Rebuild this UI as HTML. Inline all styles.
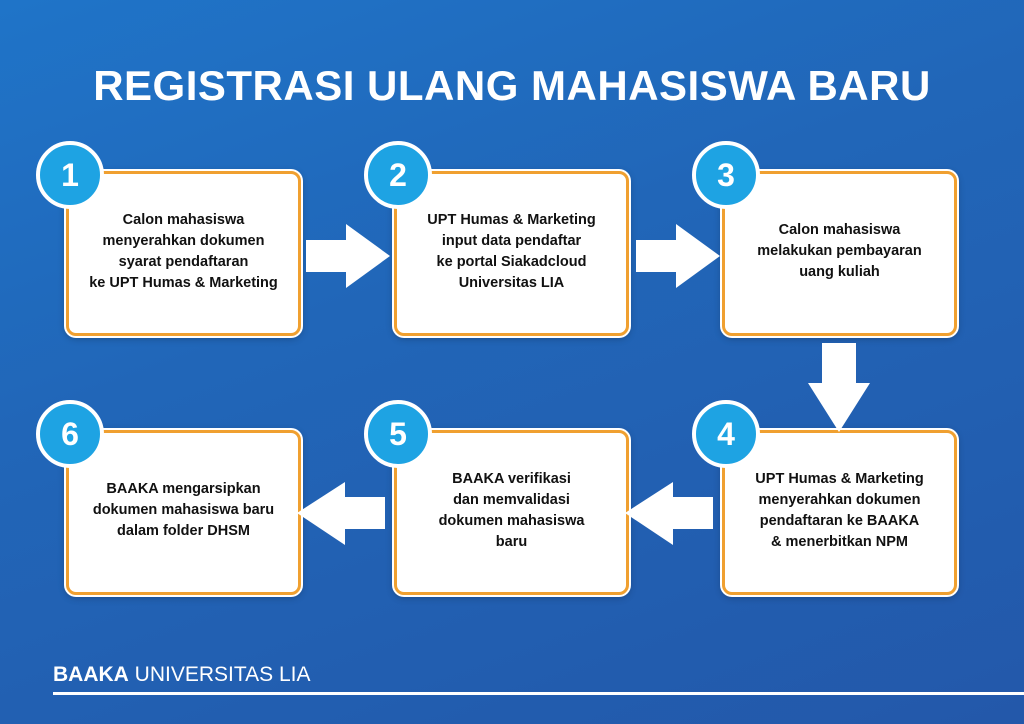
<!DOCTYPE html>
<html><head><meta charset="utf-8"><style>
body{margin:0;width:1024px;height:724px;overflow:hidden;font-family:"Liberation Sans",sans-serif;}
.bg{position:absolute;inset:0;background:linear-gradient(160deg,#1f74c8 0%,#2166b8 40%,#2358aa 100%);}
h1{position:absolute;top:62px;left:0;width:1024px;text-align:center;margin:0;color:#fff;font-size:42px;font-weight:bold;letter-spacing:0.5px;}
.box{position:absolute;width:229px;height:159px;background:#fff;border:3px solid #f0a030;border-radius:10px;box-shadow:0 0 0 2px #fff,0 2px 8px rgba(0,0,0,.3);display:flex;align-items:center;justify-content:center;text-align:center;font-weight:bold;font-size:14.5px;line-height:21px;color:#111;}
.box span{display:block;margin-top:-4px}
.c{position:absolute;width:60px;height:60px;border-radius:50%;background:#1ea3e3;border:4px solid #fff;color:#fff;font-weight:bold;font-size:32px;line-height:60px;text-align:center;}
.foot{position:absolute;left:53px;top:663px;color:#fff;font-size:21px;}
.line{position:absolute;left:53px;top:692px;width:971px;height:3px;background:#fff;}
</style></head><body>
<div class="bg"></div>
<h1>REGISTRASI ULANG MAHASISWA BARU</h1>

<div class="box" style="left:66px;top:171px"><span>Calon mahasiswa<br>menyerahkan dokumen<br>syarat pendaftaran<br>ke UPT Humas &amp; Marketing</span></div>
<div class="box" style="left:394px;top:171px"><span>UPT Humas &amp; Marketing<br>input data pendaftar<br>ke portal Siakadcloud<br>Universitas LIA</span></div>
<div class="box" style="left:722px;top:171px"><span>Calon mahasiswa<br>melakukan pembayaran<br>uang kuliah</span></div>
<div class="box" style="left:722px;top:430px"><span>UPT Humas &amp; Marketing<br>menyerahkan dokumen<br>pendaftaran ke BAAKA<br>&amp; menerbitkan NPM</span></div>
<div class="box" style="left:394px;top:430px"><span>BAAKA verifikasi<br>dan memvalidasi<br>dokumen mahasiswa<br>baru</span></div>
<div class="box" style="left:66px;top:430px"><span>BAAKA mengarsipkan<br>dokumen mahasiswa baru<br>dalam folder DHSM</span></div>

<div class="c" style="left:36px;top:141px">1</div>
<div class="c" style="left:364px;top:141px">2</div>
<div class="c" style="left:692px;top:141px">3</div>
<div class="c" style="left:692px;top:400px">4</div>
<div class="c" style="left:364px;top:400px">5</div>
<div class="c" style="left:36px;top:400px">6</div>

<svg width="1024" height="724" style="position:absolute;left:0;top:0">
<g fill="#fff">
<polygon points="306,240 346,240 346,224 390,256 346,288 346,272 306,272"/>
<polygon points="636,240 676,240 676,224 720,256 676,288 676,272 636,272"/>
<polygon points="822,343 856,343 856,383 870,383 839,432 808,383 822,383"/>
<polygon points="713,497 673,497 673,482 625,513 673,545 673,529 713,529"/>
<polygon points="385,497 345,497 345,482 297,513 345,545 345,529 385,529"/>
</g></svg>

<div class="foot"><b>BAAKA</b> UNIVERSITAS LIA</div>
<div class="line"></div>
</body></html>
